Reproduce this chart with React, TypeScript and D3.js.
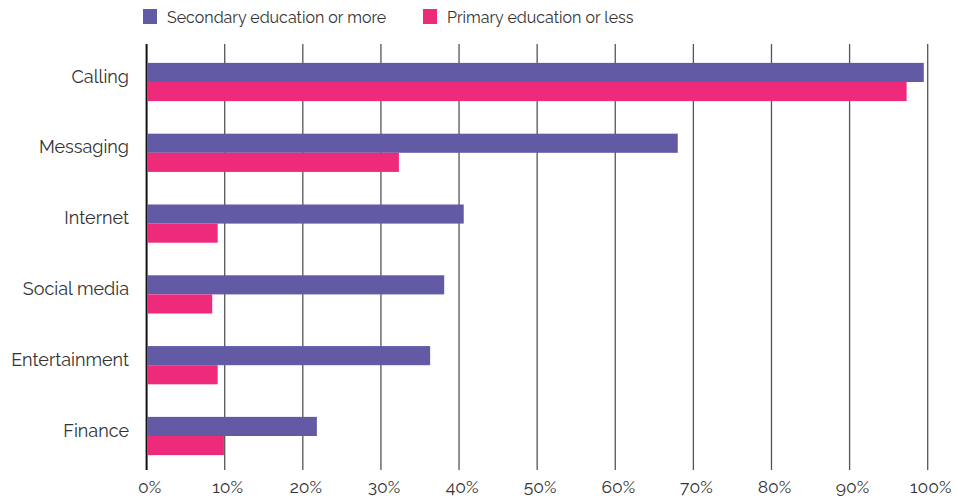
import React from "react";
import * as d3 from "d3";

const categories = ["Calling", "Messaging", "Internet", "Social media", "Entertainment", "Finance"];
const seriesNames = ["Secondary education or more", "Primary education or less"];
const secondary = [99.5, 68.0, 40.6, 38.1, 36.3, 21.8];
const primary = [97.3, 32.3, 9.1, 8.4, 9.1, 9.9];
const ticks = [0, 10, 20, 30, 40, 50, 60, 70, 80, 90, 100];
const colors = ["#635AA6", "#EE2A7B"];

const W = 958, H = 502;
const FONT = "Raleway, Lato, 'Open Sans', sans-serif";

export default function App() {
  const x = d3.scaleLinear().domain([0, 100]).range([146.6, 927.7]);
  const y = d3.scaleBand<string>().domain(categories).range([46.6, 471.4]).paddingInner(0.46).paddingOuter(0.23);
  const y1 = d3.scaleBand<string>().domain(seriesNames).range([0, y.bandwidth()]);
  const data = [secondary, primary];
  return (
    <svg width={W} height={H} style={{ position: "absolute", left: 0, top: 0 }} fontFamily={FONT}>
      {/* legend */}
      {seriesNames.map((s, i) => {
        const lx = [143, 423][i];
        return (
          <g key={s}>
            <rect x={lx} y={9} width={14} height={15} fill={colors[i]} />
            <text x={lx + 24} y={23} fontSize={16} fill="#333">{s}</text>
          </g>
        );
      })}
      {/* grid */}
      {ticks.map((t) => (
        <g key={t}>
          <line x1={x(t)} x2={x(t)} y1={44} y2={470} stroke={t === 0 ? "#111" : "#555"} strokeWidth={t === 0 ? 2 : 1.3} />
          <text x={x(t) + 3} y={493} fontSize={17.5} fill="#333" textAnchor="middle">{t}%</text>
        </g>
      ))}
      {/* bars */}
      {categories.map((c, ci) => (
        <g key={c}>
          {seriesNames.map((s, si) => (
            <rect key={s} x={x(0) + 0.5} y={(y(c) as number) + (y1(s) as number)} width={x(data[si][ci]) - x(0) - 0.5} height={y1.bandwidth()} fill={colors[si]} />
          ))}
          <text x={129} y={(y(c) as number) + y.bandwidth() / 2 + 0.5} fontSize={18} fill="#333" textAnchor="end">{c}</text>
        </g>
      ))}
    </svg>
  );
}
